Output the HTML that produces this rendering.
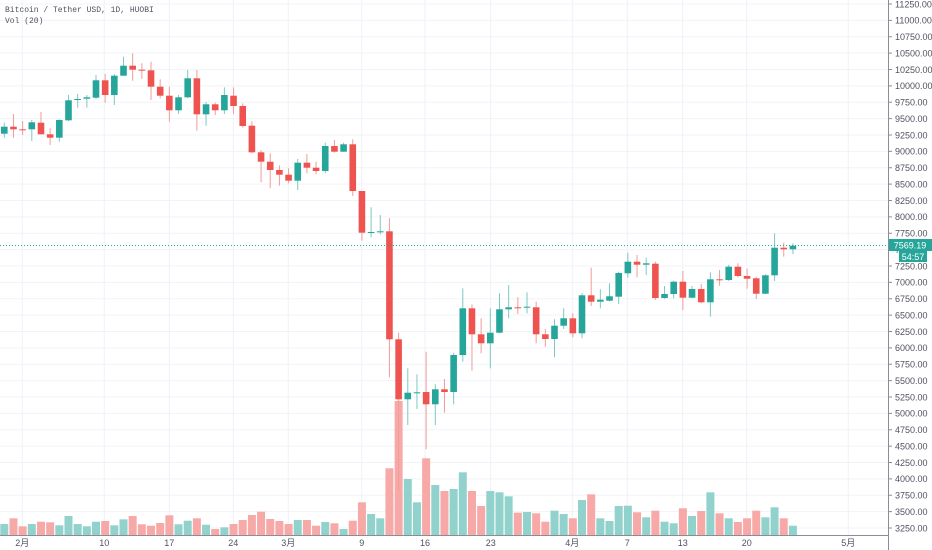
<!DOCTYPE html>
<html><head><meta charset="utf-8"><style>
html,body{margin:0;padding:0;background:#fff;width:932px;height:550px;overflow:hidden}
svg{display:block}
</style></head><body>
<svg id="c" width="932" height="550" xmlns="http://www.w3.org/2000/svg"></svg>
<script>
(function(){
var C=[[133.7,122.7,137.7,126.7],[126.7,114,137.7,129.3],[129.3,121,135,129.3],[129.3,120,141,122.3],[122.7,112,134.3,134.3],[134.3,128.3,145,137.7],[137.7,119.3,141.7,120],[120.3,95,121,100.3],[100,94,107.7,99],[98.7,95,107.7,97.3],[97.7,75,99,80.3],[80.3,74,102.7,95],[95,74,105,75.7],[75.7,56.7,75.7,65.7],[65.7,53.3,80.7,69.7],[69.7,63.3,79,69.7],[70.3,61.7,100,86.7],[86.7,79.3,98.3,95.7],[95.7,86.7,121.7,110.3],[110.3,95,114,97.3],[97.3,70,98.3,78.3],[78.3,70,130.7,114.3],[114.3,102,125.7,104.3],[104.3,102.7,115,110.3],[110.3,87.3,114,95],[95.7,87.3,114,106],[106,103.3,127.7,126],[125.7,121.3,153.3,152.3],[152.3,150,182.3,161.7],[161.7,153.3,188.3,170],[170,165.3,185.7,174.7],[174.7,168.3,183.3,180.7],[180.7,159,190,162.7],[162.7,154,173.3,167.7],[167.7,161.7,174.3,171],[171,142.7,173.3,146],[146,140,152.7,151.7],[151.7,142.7,151.7,144.3],[144.3,139.3,196,191],[191,191,240.7,232.7],[232,207.3,237.3,232],[232.3,215,234.3,231.3],[231.3,218.3,377.3,339.3],[339.3,332.7,491,399.3],[399.3,368.3,425,392.7],[393.3,374.3,409,392.3],[392,351.7,449.3,404.3],[404.3,384.3,425,389.3],[389.3,379,412.7,392],[392,352.7,404.3,355],[355,288.3,361.7,308.3],[308.3,304.3,370.7,334.3],[334.3,318.3,353.3,343.3],[343.3,308.3,368.3,332.7],[332.7,293.3,333.3,309.3],[309.3,285,318.3,307.3],[307.3,297.3,314,307.3],[307.7,292.3,313.3,306.7],[307.3,301.7,343.3,334.3],[334.3,329,346.7,339],[339,319.3,357.3,325.7],[325.7,308.3,329,318.3],[318.3,313.3,337.3,333.3],[333.3,293.3,338.3,295.3],[295.3,267.7,306,301.7],[301.7,289.3,308.3,299.7],[300.7,283.3,301.3,296.3],[296.7,271.7,304,273],[273.3,252.7,277.7,261.7],[261.7,255,277.3,264.7],[264.7,257.7,275,263.3],[263.7,261.7,300,298],[298,286,298.7,294],[294,280.7,298.3,281.7],[281.7,271,310,297.7],[297.7,286,298.3,289],[289,284,303.3,302.3],[302.3,272.3,316.7,279.3],[279.3,270,285.7,279.3],[280,264.7,281,266.7],[266.7,263.3,277.3,276],[276,268.7,288.7,278.7],[278.3,276.7,299,293.7],[293.7,274.3,294.3,275.3],[275.3,233.3,281,247.7],[247.7,242.7,256.7,249.3],[249.3,243.3,254,245.7]];
var R=[0,1,1,0,1,1,0,0,0,0,0,1,0,0,1,1,1,1,1,0,0,1,0,1,0,1,1,1,1,1,1,1,0,1,1,0,1,0,1,1,0,0,1,1,0,0,1,0,1,0,0,1,1,0,0,0,1,0,1,1,0,0,1,0,1,0,0,0,0,1,0,1,0,0,1,0,1,0,1,0,1,1,1,0,0,1,0];
var V=[524,518.3,526.3,524,521.7,522.3,525.3,516,524,526.3,521.7,521,525.3,519.3,516,524.3,525.7,523,515.3,524.3,520.7,518.3,524.7,529,527.3,524,520,515,511.7,519,521,524,520,520,525.7,522,523.3,529,520.7,502.3,514,518.3,468.3,401,479,502.3,458.3,485,491,489,472.3,491,506,491,492.3,496.3,512.7,512,513.3,521.7,510.7,514,518.3,500,494.3,518.3,521,506,505.7,512.3,517.3,510.7,521.7,523.3,508.3,516,511,492.3,513.3,518.3,522,518.3,510.7,517.3,507.3,518.3,525.7];
var s='',i,k,x,y;
for(k=0;k<=33;k++){y=4+k*16.375;if(y<535)s+='<line x1="0" y1="'+y+'" x2="888" y2="'+y+'" stroke="#f0f3fa" stroke-width="1"/>';}
var T=[[22.3,'2月'],[104.3,'10'],[169.3,'17'],[233.3,'24'],[288.3,'3月'],[361.7,'9'],[425,'16'],[490.7,'23'],[572.3,'4月'],[627.3,'7'],[682.7,'13'],[746.7,'20'],[848.3,'5月']];
T.forEach(function(t){s+='<line x1="'+t[0]+'" y1="0" x2="'+t[0]+'" y2="535" stroke="#eef2f8" stroke-width="1"/>';s+='<text x="'+t[0]+'" y="546" font-size="9" fill="#50535e" text-anchor="middle" font-family="Liberation Sans, Noto Sans CJK SC, sans-serif">'+t[1]+'</text>';});
for(i=0;i<87;i++){x=4.3+9.17*i;s+='<rect x="'+(x-4)+'" y="'+V[i]+'" width="8" height="'+(535-V[i])+'" fill="'+(R[i]?'#f7a9a7':'#92d2cc')+'"/>';}
for(i=0;i<87;i++){x=4.3+9.17*i;var c=C[i],col=R[i]?'#ef5350':'#26a69a',wc=R[i]?'#f49a98':'#7cc9c2';var bt=Math.min(c[0],c[3]),bh=Math.max(Math.abs(c[0]-c[3]),1);
s+='<line x1="'+x+'" y1="'+c[1]+'" x2="'+x+'" y2="'+c[2]+'" stroke="'+wc+'" stroke-width="1"/>';
s+='<rect x="'+(x-3.3)+'" y="'+bt+'" width="6.6" height="'+bh+'" fill="'+col+'"/>';}
s+='<line x1="0" y1="245.5" x2="888" y2="245.5" stroke="#26a69a" stroke-width="1" stroke-dasharray="1,2"/>';
s+='<rect x="888" y="0" width="44" height="550" fill="#fff"/>';
s+='<line x1="888.5" y1="0" x2="888.5" y2="550" stroke="#8a8d96" stroke-width="1"/>';
s+='<line x1="0" y1="535.5" x2="888" y2="535.5" stroke="#8a8d96" stroke-width="1"/>';
for(k=0;k<=33;k++){y=4+k*16.375;var v=11250-k*250;if(y>540)break;s+='<line x1="888" y1="'+y+'" x2="892" y2="'+y+'" stroke="#8a8d96"/>';s+='<text x="895" y="'+(y+3.3)+'" font-size="9" fill="#50535e" font-family="Liberation Sans, sans-serif">'+v.toFixed(2)+'</text>';}
s+='<rect x="889" y="239" width="43" height="12" fill="#26a69a"/><text x="910" y="248.5" font-size="9" fill="#fff" text-anchor="middle" font-family="Liberation Sans, sans-serif">7569.19</text>';
s+='<rect x="899" y="251" width="28" height="11" fill="#26a69a"/><text x="913" y="260" font-size="9" fill="#fff" text-anchor="middle" font-family="Liberation Sans, sans-serif">54:57</text>';
s+='<text x="5" y="12" font-size="8" fill="#50535e" font-family="Liberation Mono, monospace">Bitcoin / Tether USD, 1D, HUOBI</text>';
s+='<text x="5" y="23" font-size="8" fill="#50535e" font-family="Liberation Mono, monospace">Vol (20)</text>';
document.getElementById('c').innerHTML=s;
})();
</script>
</body></html>
